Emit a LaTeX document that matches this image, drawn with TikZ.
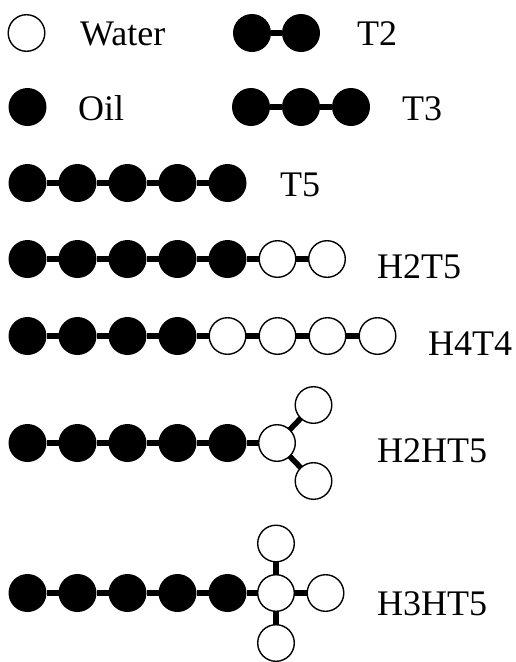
\documentclass[tikz,border=0pt]{standalone}
\usepackage{fontspec}
\setmainfont{Liberation Serif}
\begin{document}
\begin{tikzpicture}[x=1pt,y=-1pt,
  bead/.style={circle,minimum size=38pt,inner sep=0pt,outer sep=0pt},
  oil/.style={bead,fill=black},
  water/.style={bead,draw=black,line width=1.4pt,fill=white,minimum size=36.6pt},
  bond/.style={line width=5.5pt},
  lbl/.style={anchor=base west,inner sep=0pt,font=\fontsize{36}{40}\selectfont}]
\useasboundingbox (0,0) rectangle (516,662);

% legend
\node[water] (w) at (26.5,33) {};
\node[lbl] (tw) at (80,45) {Water};
\node[oil] (o) at (27.5,107) {};
\node[lbl] (to) at (78,120) {Oil};

% T2
\node[oil] (a1) at (252,33) {};
\node[oil] (a2) at (301,33) {};
\draw[bond] (a1) -- (a2);
\node[lbl] (ta) at (357,45) {T2};

% T3
\node[oil] (b1) at (251,107) {};
\node[oil] (b2) at (301,107) {};
\node[oil] (b3) at (351,107) {};
\draw[bond] (b1) -- (b2) -- (b3);
\node[lbl] (tb) at (402,120) {T3};

% T5
\foreach \i in {1,...,5}
  \node[oil] (c\i) at ({27.5+50*(\i-1)},183) {};
\draw[bond] (c1) -- (c2) -- (c3) -- (c4) -- (c5);
\node[lbl] (tc) at (280,196) {T5};

% H2T5
\foreach \i in {1,...,5}
  \node[oil] (d\i) at ({27.5+50*(\i-1)},259) {};
\node[water] (d6) at (277.5,259) {};
\node[water] (d7) at (327,259) {};
\draw[bond] (d1) -- (d2) -- (d3) -- (d4) -- (d5) -- (d6) -- (d7);
\node[lbl] (td) at (377,278) {H2T5};

% H4T4
\foreach \i in {1,...,4}
  \node[oil] (e\i) at ({27.5+50*(\i-1)},336) {};
\foreach \i in {5,...,8}
  \node[water] (e\i) at ({27.5+50*(\i-1)},336) {};
\draw[bond] (e1) -- (e2) -- (e3) -- (e4) -- (e5) -- (e6) -- (e7) -- (e8);
\node[lbl] (te) at (428,355) {H4T4};

% H2HT5
\foreach \i in {1,...,5}
  \node[oil] (f\i) at ({27.5+50*(\i-1)},443) {};
\node[water] (f6) at (277,443) {};
\node[water] (fu) at (313.5,405) {};
\node[water] (fl) at (313.5,481) {};
\draw[bond] (f1) -- (f2) -- (f3) -- (f4) -- (f5) -- (f6);
\draw[bond] (f6) -- (fu);
\draw[bond] (f6) -- (fl);
\node[lbl] (tf) at (377,462) {H2HT5};

% H3HT5
\foreach \i in {1,...,5}
  \node[oil] (g\i) at ({27.5+50*(\i-1)},593) {};
\node[water] (g6) at (276,593) {};
\node[water] (gu) at (276,543.5) {};
\node[water] (gd) at (276,643) {};
\node[water] (gr) at (325.5,593) {};
\draw[bond] (g1) -- (g2) -- (g3) -- (g4) -- (g5) -- (g6);
\draw[bond] (g6) -- (gu);
\draw[bond] (g6) -- (gd);
\draw[bond] (g6) -- (gr);
\node[lbl] (tg) at (377,615) {H3HT5};
\end{tikzpicture}
\end{document}
